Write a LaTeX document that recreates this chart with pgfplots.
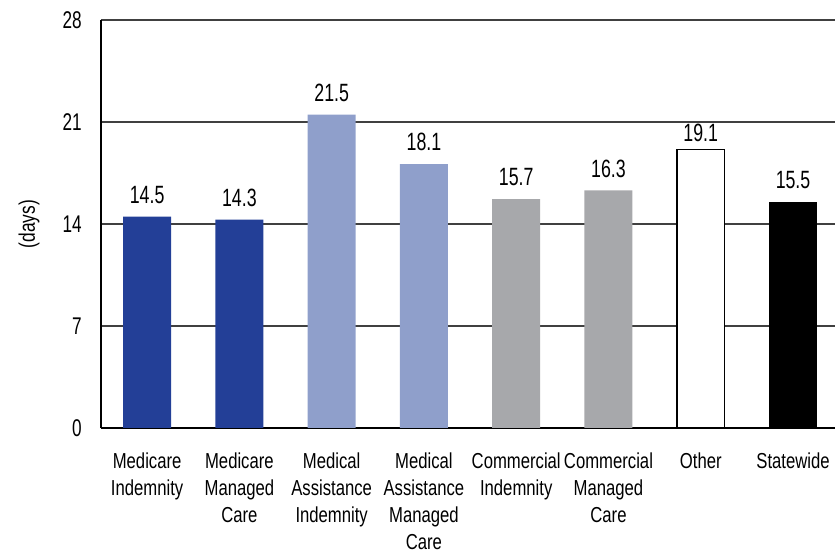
\documentclass[border=0pt]{standalone}
\usepackage{fontspec}
\setmainfont{Liberation Sans}[FakeStretch=0.77]
\newfontfamily\numfont{Liberation Sans}[FakeStretch=0.71]
\usepackage{pgfplots}
\pgfplotsset{compat=1.18}
\definecolor{dblue}{HTML}{233F97}
\definecolor{lblue}{HTML}{8F9FCB}
\definecolor{gbar}{HTML}{A7A8AB}
\begin{document}
\begin{tikzpicture}
\begin{axis}[
  scale only axis, width=440.4pt, height=244.8pt,
  xmin=-0.5, xmax=7.455, ymin=0, ymax=28,
  ytick={0,7,14,21,28},
  xtick={0,...,7},
  xticklabels={{Medicare\\Indemnity},{Medicare\\Managed\\Care},{Medical\\Assistance\\Indemnity},{Medical\\Assistance\\Managed\\Care},{Commercial\\Indemnity},{Commercial\\Managed\\Care},{Other},{Statewide}},
  /pgf/number format/assume math mode=true,
  xticklabel style={align=center, anchor=north, yshift=-11.6pt, font=\fontsize{13}{16.2}\selectfont},
  yticklabel style={xshift=-8pt, font=\numfont\fontsize{14.5}{16}\selectfont},
  axis x line=bottom, axis y line=left,
  axis line style={-, line width=1pt, black},
  ymajorgrids, grid style={black!75, line width=0.7pt},
  major tick length=0pt,
  ylabel={(days)},
  ylabel style={font=\fontsize{13.5}{16.2}\selectfont, xshift=0pt, yshift=7pt},
  bar width=0.52,
  nodes near coords={\pgfmathprintnumber[fixed,precision=1,fixed zerofill]{\pgfplotspointmeta}},
  every node near coord/.append style={font=\numfont\fontsize{15}{16}\selectfont, black, yshift=4.4pt},
]
\addplot[ybar, bar shift=0pt, fill=dblue, draw=none] coordinates {(0,14.5) (1,14.3)};
\addplot[ybar, bar shift=0pt, fill=lblue, draw=none] coordinates {(2,21.5) (3,18.1)};
\addplot[ybar, bar shift=0pt, fill=gbar, draw=none] coordinates {(4,15.7) (5,16.3)};
\addplot[ybar, bar shift=0pt, fill=white, draw=black, line width=0.9pt,
  every node near coord/.append style={yshift=-3.6pt}] coordinates {(6,19.1)};
\addplot[ybar, bar shift=0pt, fill=black, draw=none] coordinates {(7,15.5)};
\coordinate (sw) at (rel axis cs:0,0);
\coordinate (ne) at (rel axis cs:1,1);
\end{axis}
\pgfresetboundingbox
\path[use as bounding box] ([shift={(-60.6pt,-76.8pt)}]sw) rectangle ([shift={(0pt,12pt)}]ne);
\end{tikzpicture}
\end{document}
